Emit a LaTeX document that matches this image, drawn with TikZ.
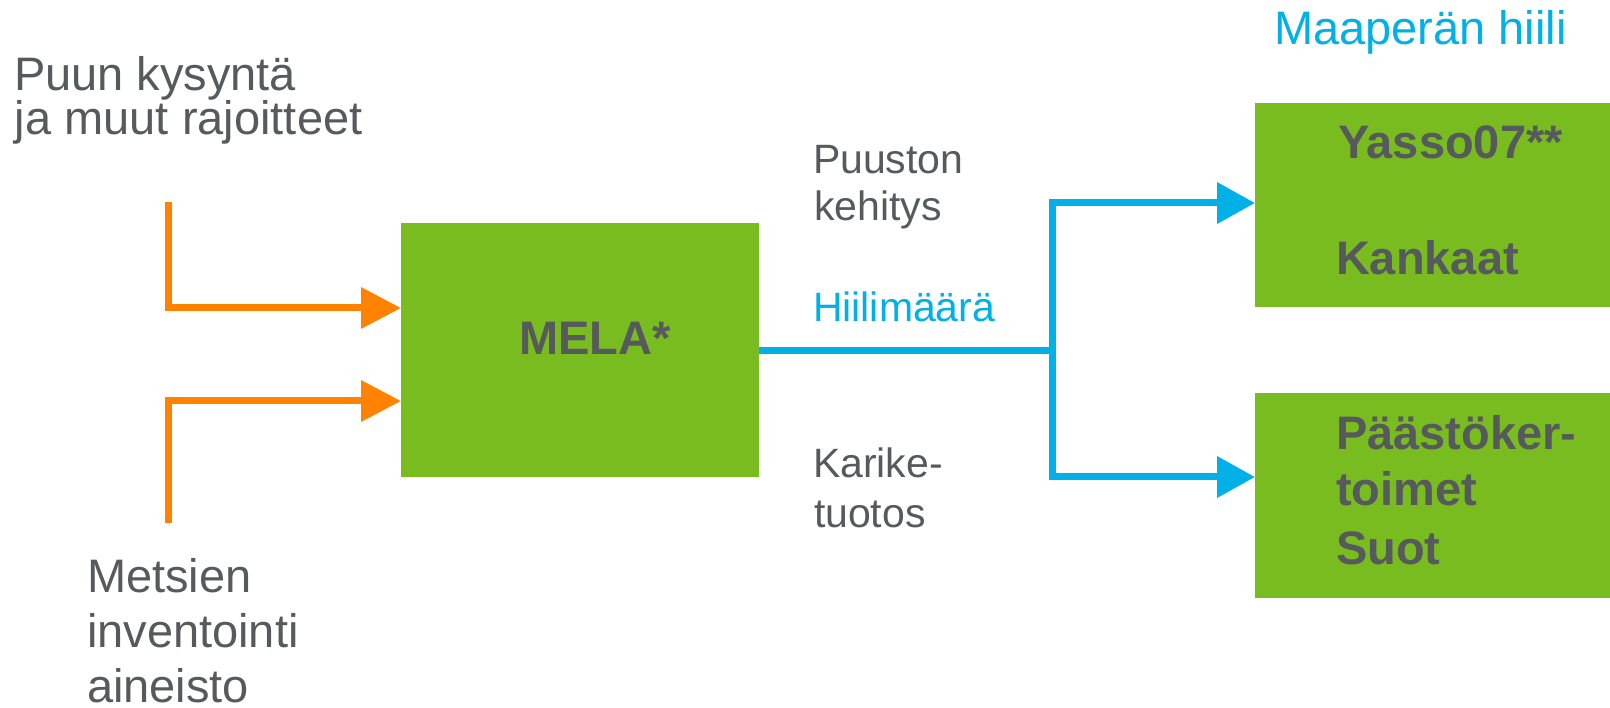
\documentclass[tikz,border=0pt]{standalone}
\usepackage{fontspec}
\setmainfont{Liberation Sans}
\usetikzlibrary{arrows.meta}

\definecolor{txtgray}{RGB}{87,90,93}
\definecolor{leafgreen}{RGB}{120,188,32}
\definecolor{skyblue}{RGB}{0,176,230}
\definecolor{flowor}{RGB}{255,131,0}

\begin{document}
\begin{tikzpicture}[x=1pt,y=-1pt,
  box/.style={fill=leafgreen, draw=none, inner sep=0pt, outer sep=0pt, anchor=north west},
  lbl/.style={anchor=base west, inner sep=0pt, outer sep=0pt, text=txtgray,
              font=\fontsize{47}{54}\selectfont},
  midlbl/.style={lbl, font=\fontsize{41}{48}\selectfont},
  boxtxt/.style={lbl, font=\fontsize{47}{54}\selectfont\bfseries},
  shade/.style={preaction={draw=black!60, opacity=.22,
                transform canvas={shift={(1.5,2.5)}}}},
  feed/.style={draw=flowor, line width=7pt, line join=miter,
               -{Triangle[length=40pt,width=40pt]}, shade},
  carbon/.style={draw=skyblue, line width=7pt, line join=miter, shade},
  carbontip/.style={carbon, -{Triangle[length=38pt,width=40pt]}},
]
\useasboundingbox (0,0) rectangle (1610,708);

% model boxes
\node[box, minimum width=358pt, minimum height=254pt] (mela) at (401,223) {};
\node[box, minimum width=355pt, minimum height=204pt] (yasso) at (1255,103) {};
\node[box, minimum width=355pt, minimum height=205pt] (paasto) at (1255,393) {};

% box texts
\node[boxtxt] (melatxt) at (519,355) {MELA*};
\node[boxtxt] (yasso1) at (1338,159) {Yasso07**};
\node[boxtxt] (yasso2) at (1336,275) {Kankaat};
\node[boxtxt] (paasto1) at (1336,450) {Päästöker-};
\node[boxtxt] (paasto2) at (1336,506) {toimet};
\node[boxtxt] (paasto3) at (1336,564) {Suot};

% input labels
\node[lbl] (dem1) at (14,91) {Puun kysyntä};
\node[lbl] (dem2) at (15,135) {ja muut rajoitteet};
\node[lbl] (inv1) at (87,592) {Metsien};
\node[lbl] (inv2) at (87,647) {inventointi};
\node[lbl] (inv3) at (87,702) {aineisto};

% output labels
\node[lbl, text=skyblue] (soil) at (1274,45) {Maaperän hiili};
\node[midlbl] (growth1) at (813,174) {Puuston};
\node[midlbl] (growth2) at (814,221) {kehitys};
\node[midlbl, text=skyblue] (cstock) at (813,322) {Hiilimäärä};
\node[midlbl] (litter1) at (813,478) {Karike-};
\node[midlbl] (litter2) at (814,527) {tuotos};

% inputs into MELA
\coordinate (demstart) at (168,202);
\coordinate (invstart) at (168,523);
\draw[feed] (demstart) |- (mela.west |- 0,308);
\draw[feed] (invstart) |- (mela.west |- 0,401);

% carbon flow to the soil models
\coordinate (split) at (1052,351);
\draw[carbon] (mela.east |- split) -- (split);
\draw[carbontip] (split) |- (yasso.west |- 0,203);
\draw[carbontip] (split) |- (paasto.west |- 0,477);
\end{tikzpicture}
\end{document}
